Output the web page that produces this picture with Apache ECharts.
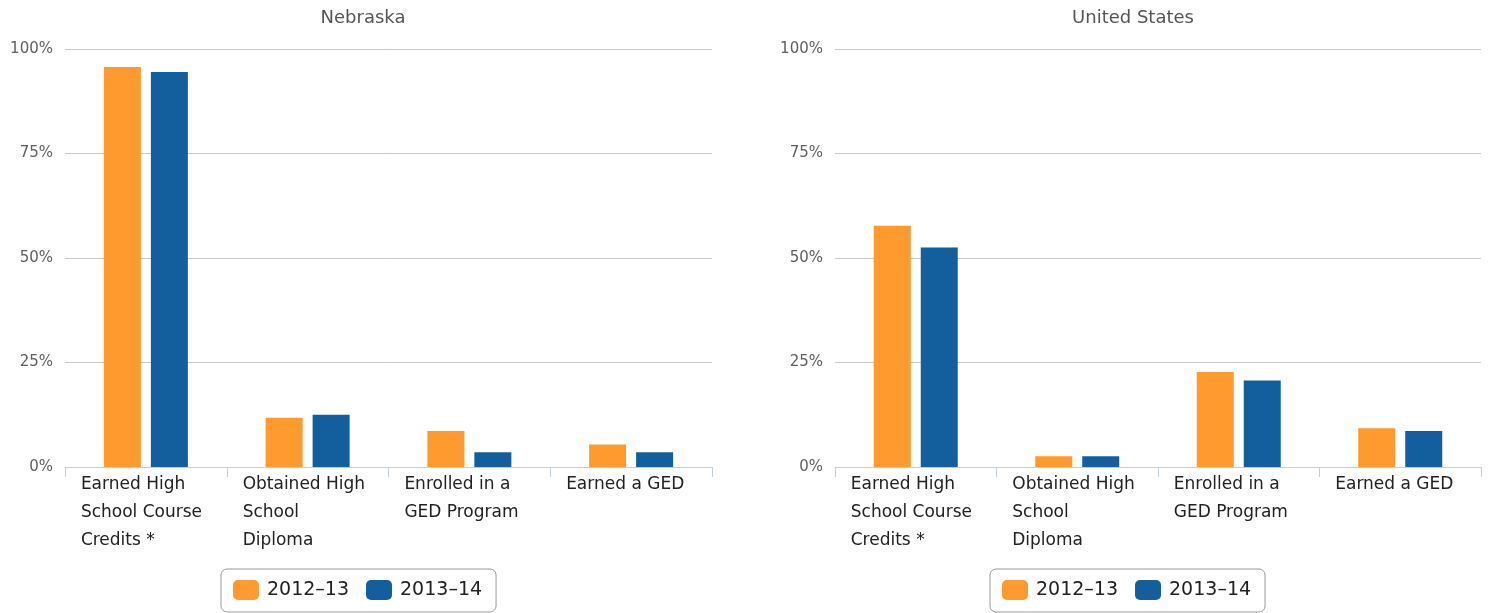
<!DOCTYPE html>
<html>
<head>
<meta charset="utf-8">
<script src="https://cdn.jsdelivr.net/npm/echarts@6/dist/echarts.min.js"></script>
<style>html,body{margin:0;padding:0;background:#fff}#c{width:1492px;height:613px}</style>
</head>
<body>
<div id="c"></div>
<script>
const categories = ['Earned High\nSchool Course\nCredits *', 'Obtained High\nSchool\nDiploma', 'Enrolled in a\nGED Program', 'Earned a GED'];
const seriesNames = ['2012–13', '2013–14'];
const nebraska2012 = [95.7, 11.8, 8.6, 5.4];
const nebraska2013 = [94.5, 12.5, 3.5, 3.5];
const us2012 = [57.7, 2.6, 22.7, 9.3];
const us2013 = [52.5, 2.6, 20.7, 8.6];
const yTicks = [0, 25, 50, 75, 100];

const FONT = 'DejaVu Sans';
const ORANGE = '#FF9A2E';
const BLUE = '#135E9C';

const chart = echarts.init(document.getElementById('c'), null, {renderer: 'canvas'});

function xAxis(gi) {
  return {
    type: 'category', gridIndex: gi, data: categories,
    axisLine: {lineStyle: {color: '#C0D0E0', width: 1}},
    axisTick: {show: true, length: 10, lineStyle: {color: '#C0D0E0'}},
    axisLabel: {
      interval: 0, margin: 4,
      formatter: v => v.split('\n').map(s => '{a|' + s + '}').join('\n'),
      rich: {a: {width: 130, align: 'left', fontFamily: FONT, fontSize: 17, lineHeight: 28, color: '#222'}}
    }
  };
}
function yAxis(gi) {
  return {
    type: 'value', gridIndex: gi, min: yTicks[0], max: yTicks[yTicks.length - 1], interval: 25,
    axisLine: {show: false}, axisTick: {show: false},
    splitLine: {lineStyle: {color: '#C8C8C8', width: 1}},
    axisLabel: {formatter: '{value}%', margin: 12, fontFamily: FONT, fontSize: 15, color: '#606060', padding: [3, 0, 0, 0]}
  };
}
function bar(name, data, gi, color) {
  return {
    name, type: 'bar', xAxisIndex: gi, yAxisIndex: gi, data,
    barWidth: 37, barGap: '27%',
    itemStyle: {color}, emphasis: {disabled: true}
  };
}
function legend(left) {
  return {
    data: seriesNames, left: left, top: 569, orient: 'horizontal',
    itemWidth: 26, itemHeight: 20, itemGap: 17, icon: 'roundRect',
    borderColor: '#999', borderWidth: 1, borderRadius: 6, padding: [11, 14, 12, 12],
    textStyle: {fontFamily: FONT, fontSize: 19, color: '#222', padding: [0, 0, 0, 3]}
  };
}

chart.setOption({
  animation: false,
  title: [
    {text: 'Nebraska', left: 358, top: 4, textAlign: 'center', textStyle: {fontFamily: FONT, fontSize: 18, fontWeight: 'normal', color: '#555'}},
    {text: 'United States', left: 1128, top: 4, textAlign: 'center', textStyle: {fontFamily: FONT, fontSize: 18, fontWeight: 'normal', color: '#555'}}
  ],
  grid: [
    {left: 65, width: 647, top: 49, height: 418},
    {left: 835, width: 646, top: 49, height: 418}
  ],
  xAxis: [xAxis(0), xAxis(1)],
  yAxis: [yAxis(0), yAxis(1)],
  legend: [legend(221), legend(990)],
  series: [
    bar(seriesNames[0], nebraska2012, 0, ORANGE),
    bar(seriesNames[1], nebraska2013, 0, BLUE),
    bar(seriesNames[0], us2012, 1, ORANGE),
    bar(seriesNames[1], us2013, 1, BLUE)
  ]
});
</script>
</body>
</html>
